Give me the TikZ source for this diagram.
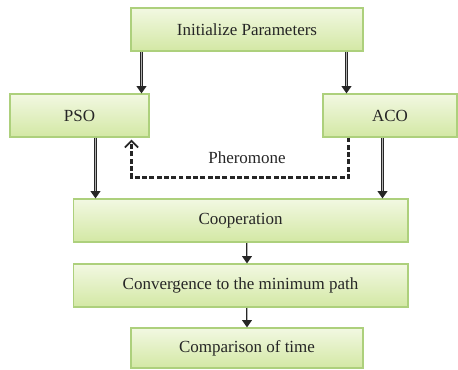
\documentclass[tikz,border=0pt]{standalone}
\usepackage{fontspec}
\setmainfont{Liberation Serif}
\usetikzlibrary{arrows.meta,positioning}

\definecolor{boxline}{HTML}{ADD07C}
\definecolor{boxtop}{HTML}{F2F8E2}
\definecolor{boxbot}{HTML}{D3E8A4}
\definecolor{ink}{HTML}{262626}

\tikzset{
  stage/.style={draw=boxline, line width=0.7pt, top color=boxtop, bottom color=boxbot,
    minimum height=1.032cm, inner sep=0pt, text=ink, font=\fontsize{11.6}{13}\selectfont},
  flow/.style={draw=ink, line width=1.9pt, -{Triangle[length=5pt,width=6.5pt]},
    postaction={draw=gray!60, line width=0.6pt, -, shorten >=5pt, shorten <=0.5pt}},
  feedback/.style={draw=ink, line width=1.4pt, dash pattern=on 3.4pt off 1.6pt,
    -{Straight Barb[length=4.5pt,width=9pt,line width=1.2pt]}}
}

\begin{document}
\begin{tikzpicture}[x=0.024cm,y=-0.024cm]
  \useasboundingbox (0,0) rectangle (458,369);

  % Boxes
  \node[stage, minimum width=5.568cm] (init) at (247,29.5) {Initialize Parameters};
  \node[stage, minimum width=3.336cm] (pso)  at (79.5,115.5) {PSO};
  \node[stage, minimum width=3.216cm] (aco)  at (390,115.5) {ACO};
  \node[stage, minimum width=8.04cm]  (coop) at (240.5,220.5) {Cooperation};
  \node[stage, minimum width=8.04cm]  (conv) at (240.5,285.5) {Convergence to the minimum path};
  \node[stage, minimum width=5.568cm, minimum height=0.96cm] (comp) at (247,348) {Comparison of time};

  % Label of the feedback
  \node[text=ink, font=\fontsize{11.6}{13}\selectfont] (pher) at (247,158) {Pheromone};

  % Arrows
  \draw[flow] ([xshift=0.264cm]init.south west) -- ([xshift=0.264cm]init.south west |- pso.north);
  \draw[flow] ([xshift=-0.408cm]init.south east) -- ([xshift=-0.408cm]init.south east |- aco.north);
  \draw[flow] ([xshift=2.064cm]pso.south west) -- ([xshift=2.064cm]pso.south west |- coop.north);
  \draw[flow] ([xshift=1.44cm]aco.south west) -- ([xshift=1.44cm]aco.south west |- coop.north);
  \draw[flow] (coop.south -| comp.north) -- (conv.north -| comp.north);
  \draw[flow] (conv.south -| comp.north) -- (comp.north);

  % Pheromone feedback
  \draw[feedback] ([xshift=0.624cm]aco.south west) -- ++(0,40)
    -| ([xshift=-0.432cm,yshift=-0.05cm]pso.south east);
\end{tikzpicture}
\end{document}
